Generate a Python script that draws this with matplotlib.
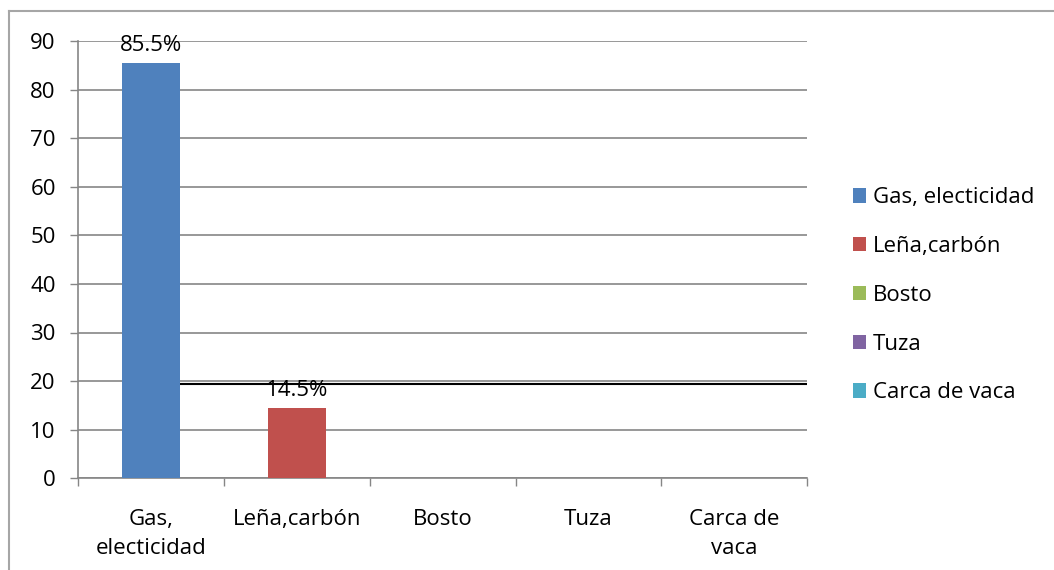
import matplotlib
matplotlib.use("Agg")
import matplotlib.pyplot as plt
from matplotlib.lines import Line2D
from matplotlib.patches import Patch

# Data
categories = ["Gas,\nelecticidad", "Leña,carbón", "Bosto", "Tuza", "Carca de\nvaca"]
legend_labels = ["Gas, electicidad", "Leña,carbón", "Bosto", "Tuza", "Carca de vaca"]
values = [85.5, 14.5, 0, 0, 0]
value_labels = ["85.5%", "14.5%", None, None, None]
y_ticks = [0, 10, 20, 30, 40, 50, 60, 70, 80, 90]
ref_line_value = 19.3

colors = ["#4F81BD", "#C0504D", "#9BBB59", "#8064A2", "#4BACC6"]
grid_color = "#868686"
fs = 16

plt.rcParams["font.family"] = ["Open Sans", "DejaVu Sans"]

fig = plt.figure(figsize=(10.54, 5.70), dpi=100)
ax = fig.add_axes([0.074, 0.161, 0.692, 0.767])

x = list(range(len(categories)))
ax.bar(x, values, width=0.4, color=colors, zorder=3)

for xi, v, lab in zip(x, values, value_labels):
    if lab:
        ax.annotate(lab, (xi, v), xytext=(0, 5), textcoords="offset points",
                    ha="center", va="bottom", fontsize=fs, zorder=4)

# black horizontal line starting at the right edge of the first bar
ax.hlines(ref_line_value, x[0] + 0.2, len(categories) - 0.5, color="black",
          linewidth=1.5, zorder=5)

ax.set_xlim(-0.5, len(categories) - 0.5)
ax.set_ylim(0, 90)
ax.set_yticks(y_ticks)
ax.yaxis.grid(True, color=grid_color, linewidth=1.2, zorder=0)
ax.tick_params(axis="y", length=6, width=1, color=grid_color, pad=10, labelsize=fs)

# labels at category centres, boundary ticks as minor ticks
ax.set_xticks(x)
ax.set_xticklabels(categories, fontsize=fs, linespacing=1.5)
ax.tick_params(axis="x", which="major", length=0, pad=22)
ax.set_xticks([i - 0.5 for i in range(len(categories) + 1)], minor=True)
ax.tick_params(axis="x", which="minor", length=6, width=1, color=grid_color)

for side in ["top", "right"]:
    ax.spines[side].set_visible(False)
for side in ["left", "bottom"]:
    ax.spines[side].set_color(grid_color)
    ax.spines[side].set_linewidth(1.2)

handles = [Patch(facecolor=c, edgecolor="none") for c in colors]
fig.legend(handles, legend_labels, loc="center left", bbox_to_anchor=(0.79, 0.482),
           frameon=False, fontsize=fs, handlelength=0.62, handleheight=0.62,
           handletextpad=0.3, labelspacing=1.25)

# chart outer border (cut off at right and bottom)
fig.add_artist(Line2D([0.0085, 0.0085], [0, 0.981], color="#a6a6a6", linewidth=1.5))
fig.add_artist(Line2D([0.0085, 1], [0.981, 0.981], color="#a6a6a6", linewidth=1.5))

fig.savefig("out.png", dpi=100)
